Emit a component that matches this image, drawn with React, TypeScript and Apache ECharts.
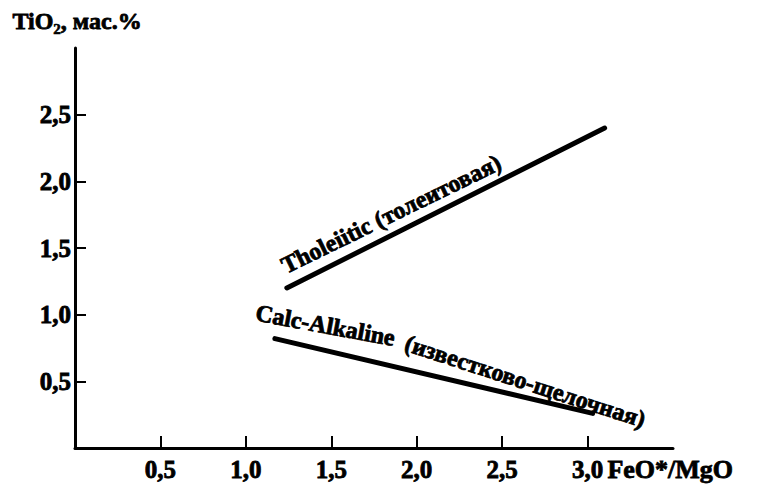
import React, { useEffect, useRef } from "react";
import * as echarts from "echarts";

// Tick values and their printed labels
const xTickValues = [0.5, 1.0, 1.5, 2.0, 2.5, 3.0];
const xTickLabels = ["0,5", "1,0", "1,5", "2,0", "2,5", "3,0"];
const yTickValues = [0.5, 1.0, 1.5, 2.0, 2.5];
const yTickLabels = ["0,5", "1,0", "1,5", "2,0", "2,5"];

// Discrimination lines (FeO*/MgO, TiO2)
const tholeiiticX = [1.24, 3.1];
const tholeiiticY = [1.2, 2.4];
const calcAlkalineX = [1.17, 3.03];
const calcAlkalineY = [0.82, 0.26];

// Texts
const xAxisTitle = "FeO*/MgO";
const yAxisTitleParts = ["TiO", "2", ", мас.%"];
const tholeiiticLabel = "Tholeiitic (толеитовая)";
const calcAlkalineLabelParts = ["Calc-Alkaline", "(известково-щелочная)"];

const FONT = "'Liberation Serif', 'DejaVu Serif', serif";
const INK = "#000";

const fmt = (values: number[], labels: string[]) => (v: number) => {
  const i = values.findIndex((t) => Math.abs(t - v) < 1e-6);
  return i >= 0 ? labels[i] : "";
};

export default function App() {
  const ref = useRef<HTMLDivElement>(null);
  useEffect(() => {
    if (!ref.current) return;
    const chart = echarts.init(ref.current, undefined, { renderer: "svg" });
    const labelText = {
      color: INK,
      fontSize: 25,
      fontWeight: "bold" as const,
      fontFamily: FONT,
      textBorderColor: INK,
      textBorderWidth: 0.8,
    };
    chart.setOption({
      animation: false,
      backgroundColor: "#fff",
      grid: { left: 75, right: 88, top: 48, bottom: 41, containLabel: false },
      xAxis: {
        type: "value",
        min: 0,
        max: 3.5,
        interval: 0.5,
        axisLine: { show: true, onZero: false, lineStyle: { color: INK, width: 3 } },
        axisTick: {
          show: true,
          inside: true,
          length: 12,
          customValues: xTickValues,
          lineStyle: { color: INK, width: 2 },
        },
        axisLabel: {
          customValues: xTickValues,
          formatter: fmt(xTickValues, xTickLabels),
          margin: 9,
          ...labelText,
        },
        splitLine: { show: false },
      },
      yAxis: {
        type: "value",
        min: 0,
        max: 3.0,
        interval: 0.5,
        axisLine: { show: true, onZero: false, lineStyle: { color: INK, width: 3 } },
        axisTick: {
          show: true,
          inside: true,
          length: 11,
          customValues: yTickValues,
          lineStyle: { color: INK, width: 2 },
        },
        axisLabel: {
          customValues: yTickValues,
          formatter: fmt(yTickValues, yTickLabels),
          margin: 4,
          ...labelText,
        },
        splitLine: { show: false },
      },
      series: [
        {
          type: "line",
          name: "Tholeiitic",
          data: tholeiiticX.map((x, i) => [x, tholeiiticY[i]]),
          symbol: "none",
          lineStyle: { color: INK, width: 5, cap: "round" },
        },
        {
          type: "line",
          name: "Calc-Alkaline",
          data: calcAlkalineX.map((x, i) => [x, calcAlkalineY[i]]),
          symbol: "none",
          lineStyle: { color: INK, width: 5, cap: "round" },
        },
        {
          type: "scatter",
          symbolSize: 0,
          silent: true,
          itemStyle: { color: INK, opacity: 1 },
          label: {
            show: true,
            position: "inside",
            align: "center",
            verticalAlign: "middle",
            ...labelText,
            fontSize: 24,
            opacity: 1,
          },
          data: [
            { value: [1.85, 1.755], label: { rotate: 26, formatter: tholeiiticLabel } },
            { value: [1.465, 0.92], label: { rotate: -10.5, formatter: calcAlkalineLabelParts[0] } },
            { value: [2.635, 0.5], label: { rotate: -18, formatter: calcAlkalineLabelParts[1] } },
          ],
        },
      ],
      graphic: [
        {
          type: "text",
          left: 607,
          top: 456,
          style: {
            text: xAxisTitle,
            fill: INK,
            fontSize: 26,
            fontWeight: "bold",
            fontFamily: FONT,
            stroke: INK,
            lineWidth: 0.8,
          },
        },
        {
          type: "text",
          left: 12,
          top: 9,
          style: {
            text: `{a|${yAxisTitleParts[0]}}{s|${yAxisTitleParts[1]}}{a|${yAxisTitleParts[2]}}`,
            rich: {
              a: { fill: INK, fontSize: 24, fontWeight: "bold", fontFamily: FONT, lineHeight: 30, verticalAlign: "middle", stroke: INK, lineWidth: 0.8 },
              s: { fill: INK, fontSize: 15, fontWeight: "bold", fontFamily: FONT, lineHeight: 30, verticalAlign: "bottom", stroke: INK, lineWidth: 0.6 },
            },
          },
        },
      ],
    });
    return () => chart.dispose();
  }, []);
  return (
    <div
      ref={ref}
      style={{ position: "fixed", left: 0, top: 0, width: 761, height: 489, background: "#fff" }}
    />
  );
}
